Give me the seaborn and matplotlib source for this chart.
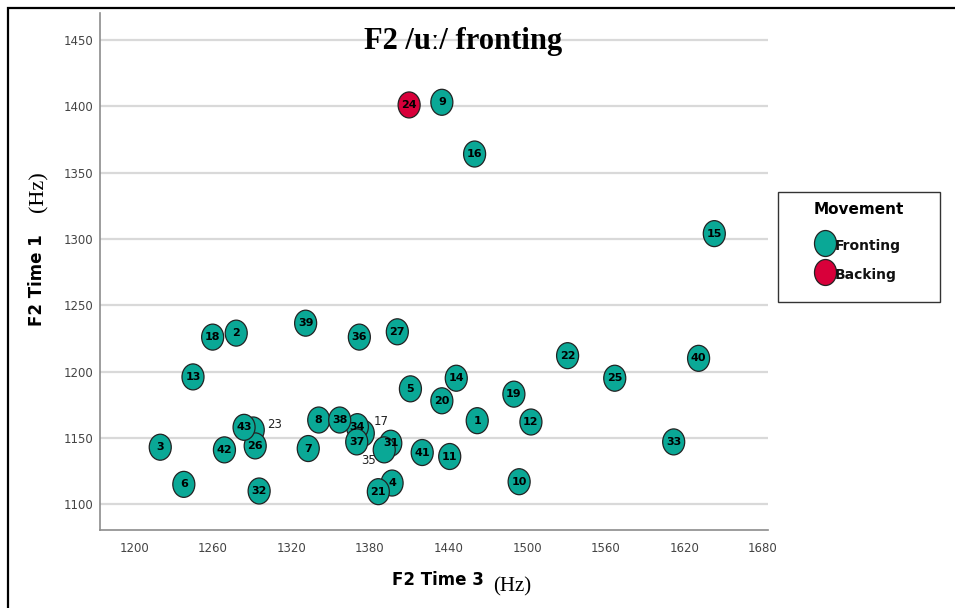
import numpy as np
import pandas as pd
import matplotlib
matplotlib.use("Agg")
import matplotlib.pyplot as plt
import seaborn as sns
from matplotlib.path import Path
from matplotlib.lines import Line2D
from matplotlib.patches import Rectangle

# Speaker ids (28-30 not plotted)
speaker_ids = [1, 2, 3, 4, 5, 6, 7, 8, 9, 10, 11, 12, 13, 14, 15, 16, 17, 18, 19, 20,
               21, 22, 23, 24, 25, 26, 27, 31, 32, 33, 34, 35, 36, 37, 38, 39, 40, 41, 42, 43]

# F2 at time 3 (x) and time 1 (y), Hz
f2_time3 = [1462, 1278, 1220, 1397, 1411, 1238, 1333, 1341, 1435, 1494,
            1441, 1503, 1245, 1446, 1643, 1460, 1375, 1260, 1490, 1435,
            1386.5, 1531, 1291, 1410, 1567, 1292.5, 1401, 1396, 1295.5, 1612,
            1370.5, 1391, 1372, 1370, 1357, 1331, 1631, 1420, 1269, 1284]
f2_time1 = [1163, 1229, 1143, 1116, 1187, 1115, 1142, 1163.5, 1403, 1117,
            1136, 1162, 1196, 1195, 1304, 1364, 1153.5, 1226, 1183, 1178,
            1109.5, 1212, 1156, 1401, 1195, 1144, 1230, 1146, 1110, 1147,
            1158.5, 1141, 1226, 1147, 1163.5, 1236.5, 1210, 1139, 1141, 1158]
movement = ["Backing" if i == 24 else "Fronting" for i in speaker_ids]

x_ticks = [1200, 1260, 1320, 1380, 1440, 1500, 1560, 1620, 1680]
y_ticks = [1100, 1150, 1200, 1250, 1300, 1350, 1400, 1450]

# labels that SPSS pushed off their markers (offset in points)
moved_labels = {23: (15, 4), 17: (13, 8.5), 35: (-11.5, -8)}

df = pd.DataFrame({"id": speaker_ids, "F2 Time 3": f2_time3,
                   "F2 Time 1": f2_time1, "Movement": movement})

palette = {"Fronting": "#0aa896", "Backing": "#d8003a"}

# slightly tall ellipse marker like SPSS
circ = Path.unit_circle()
ellipse = Path(circ.vertices * np.array([1.0, 1.18]), circ.codes)

sns.set_style("white")
plt.rcParams["font.family"] = ["DejaVu Sans"]
plt.rcParams["text.color"] = "black"

W, H = 955, 608
fig = plt.figure(figsize=(W / 100, H / 100), dpi=100)


def fx(px):
    return px / W


def fy(py):
    return 1 - py / H


ax = fig.add_axes([fx(100), fy(530), fx(768) - fx(100), fy(13) - fy(530)])

sns.scatterplot(data=df, x="F2 Time 3", y="F2 Time 1", hue="Movement",
                palette=palette, marker=ellipse, s=350, edgecolor="#222222",
                linewidth=0.9, legend=False, ax=ax, zorder=3)

for i, xv, yv in zip(speaker_ids, f2_time3, f2_time1):
    if i in moved_labels:
        ax.annotate(str(i), (xv, yv), xytext=moved_labels[i], textcoords="offset points",
                    ha="center", va="center", fontsize=8.5, color="#222222", zorder=5)
    else:
        ax.text(xv, yv, str(i), ha="center", va="center", fontsize=8,
                fontweight="bold", color="black", zorder=5)

ax.set_xlim(1174, 1684)
ax.set_ylim(1080.6, 1470.3)
ax.set_xticks(x_ticks)
ax.set_yticks(y_ticks)
ax.tick_params(axis="both", length=0, labelsize=8.5, labelcolor="#444444")
ax.tick_params(axis="x", pad=9)
ax.tick_params(axis="y", pad=5)
ax.yaxis.grid(True, color="#d9d9d9", linewidth=1.6, zorder=0)
ax.xaxis.grid(False)
ax.set_axisbelow(True)
for side in ["top", "right"]:
    ax.spines[side].set_visible(False)
for side in ["left", "bottom"]:
    ax.spines[side].set_color("#8c8c8c")
    ax.spines[side].set_linewidth(1.2)
ax.set_xlabel("")
ax.set_ylabel("")

# title and axis titles
fig.text(fx(463), fy(41), "F2 /uː/ fronting", ha="center", va="center",
         fontsize=22, fontweight="bold", color="black",
         family=["Liberation Serif", "DejaVu Serif"])
fig.text(fx(438), fy(580), "F2 Time 3", ha="center", va="center",
         fontsize=12, fontweight="bold", color="black")
fig.text(fx(512), fy(587), "(Hz)", ha="center", va="center",
         fontsize=15, color="black", family=["Liberation Serif"])
fig.text(fx(37), fy(280), "F2 Time 1", ha="center", va="center", rotation=90,
         fontsize=12, fontweight="bold", color="black")
fig.text(fx(39), fy(192), "(Hz)", ha="center", va="center", rotation=90,
         fontsize=16, color="black", family=["Liberation Serif"])

# legend
handles = [Line2D([], [], linestyle="none", marker=ellipse, markersize=18.7,
                  markerfacecolor=palette[k], markeredgecolor="#222222",
                  markeredgewidth=0.9) for k in ["Fronting", "Backing"]]
leg = fig.legend(handles, ["Fronting", "Backing"], loc="upper center",
                 bbox_to_anchor=(fx(859), fy(229)), frameon=False,
                 prop={"size": 10, "weight": "bold"}, handlelength=1.0, handleheight=1.8,
                 handletextpad=0.2, labelspacing=0.63, borderpad=0)
for t in leg.get_texts():
    t.set_color("#111111")
fig.text(fx(859), fy(210), "Movement", ha="center", va="center",
         fontsize=11, fontweight="bold", color="black")
fig.patches.append(Rectangle((fx(778), fy(302)), fx(940) - fx(778), fy(192) - fy(302),
                             transform=fig.transFigure, fill=False,
                             edgecolor="#333333", linewidth=1.0))

# outer frame (only top and left edges fall inside the picture)
fig.patches.append(Rectangle((fx(8), -0.1), 1.2, fy(8) + 0.1,
                             transform=fig.transFigure, fill=False,
                             edgecolor="black", linewidth=1.6))

fig.savefig("out.png", dpi=100)
